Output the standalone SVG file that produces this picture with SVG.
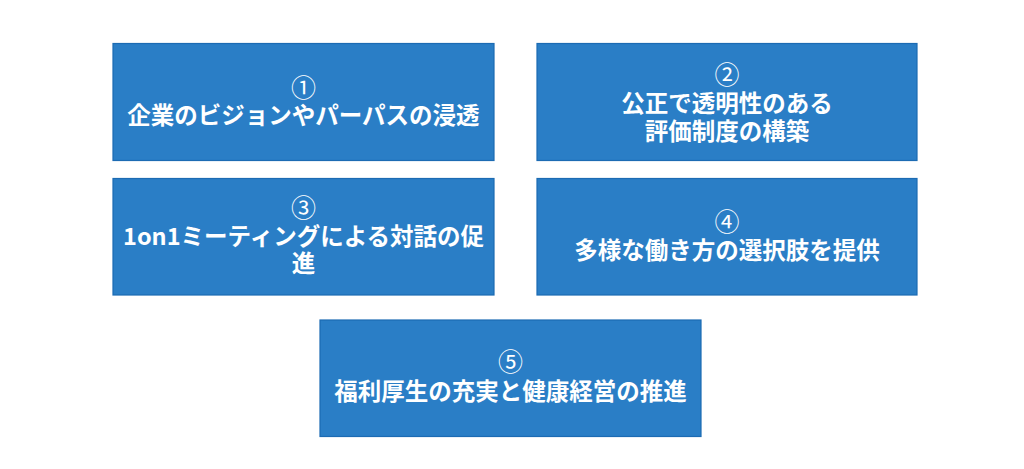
<svg xmlns="http://www.w3.org/2000/svg" width="1024" height="469" viewBox="0 0 1024 469">
<style>
.box{fill:#2A7EC6;stroke:#1C6BB3;stroke-width:1.2}
.t{font-family:"Noto Sans CJK JP","Noto Sans",sans-serif;font-weight:bold;font-size:23.5px;fill:#FFFFFF;text-anchor:middle}
.n{font-family:"Noto Sans CJK JP","Noto Sans",sans-serif;font-weight:normal;font-size:25px;fill:#FFFFFF;text-anchor:middle}
</style>
<rect width="1024" height="469" fill="#FFFFFF"/>
<g id="connectors"></g>
<g id="node1">
<rect class="box" x="113" y="43.5" width="381" height="117"/>
<text class="n" x="303.5" y="97">①</text>
<text class="t" x="303.5" y="124">企業のビジョンやパーパスの浸透</text>
</g>
<g id="node2">
<rect class="box" x="537" y="43.5" width="380" height="117"/>
<text class="n" x="727" y="84">②</text>
<text class="t" x="727" y="112">公正で透明性のある</text>
<text class="t" x="727" y="140">評価制度の構築</text>
</g>
<g id="node3">
<rect class="box" x="113" y="178.5" width="381" height="116.5"/>
<text class="n" x="303.5" y="217">③</text>
<text class="t" x="303.5" y="244.5">1on1ミーティングによる対話の促</text>
<text class="t" x="303.5" y="272">進</text>
</g>
<g id="node4">
<rect class="box" x="537" y="178.5" width="380" height="116.5"/>
<text class="n" x="727" y="231">④</text>
<text class="t" x="727" y="259">多様な働き方の選択肢を提供</text>
</g>
<g id="node5">
<rect class="box" x="320" y="320" width="381" height="116.5"/>
<text class="n" x="510.5" y="371">⑤</text>
<text class="t" x="510.5" y="399.5">福利厚生の充実と健康経営の推進</text>
</g>
</svg>
